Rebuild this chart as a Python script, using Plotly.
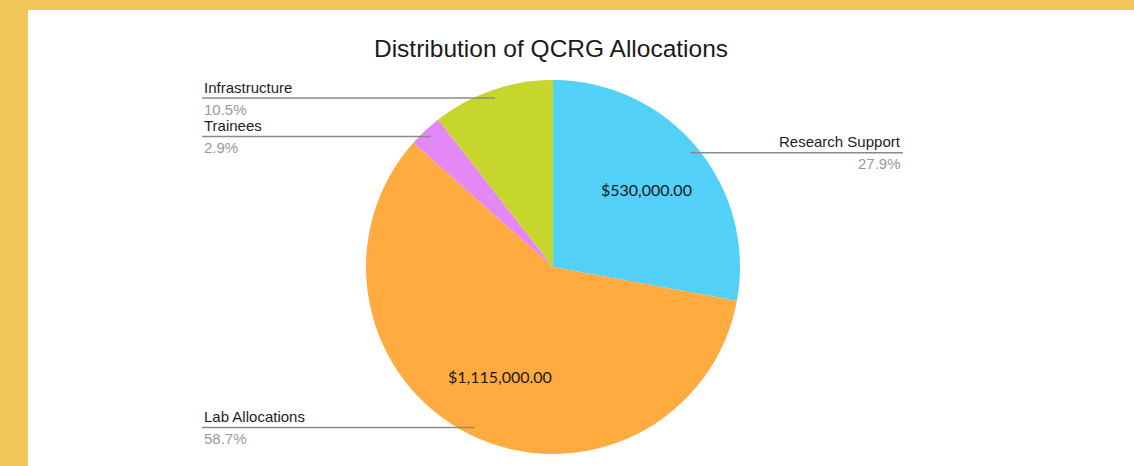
import math
import plotly.graph_objects as go

# ---- data ----
categories = ["Research Support", "Lab Allocations", "Trainees", "Infrastructure"]
amounts = [530000, 1115000, 55000, 200000]
colors = ["#52D0F8", "#FFAB40", "#E388F6", "#C6D62C"]
title_text = "Distribution of QCRG Allocations"

# ---- layout constants (pixels) ----
W, H = 1134, 466
CX, CY, R = 553, 267, 187
LEFT_LABEL_X = 202
RIGHT_LABEL_X = 903
LEAD_FRAC = 0.955
INSIDE_FRAC = 0.65

def px(x):
    return x / W

def py(y):
    return 1 - y / H

total = sum(amounts)
pcts = [a / total for a in amounts]

fig = go.Figure()
fig.add_trace(go.Pie(
    labels=categories,
    values=amounts,
    sort=False,
    direction="clockwise",
    rotation=0,
    marker=dict(colors=colors, line=dict(width=0)),
    textinfo="none",
    hoverinfo="skip",
    showlegend=False,
    domain=dict(x=[px(CX - R), px(CX + R)], y=[py(CY + R), py(CY - R)]),
))

shapes = [
    dict(type="rect", xref="paper", yref="paper", x0=0, x1=1, y0=py(10), y1=1,
         fillcolor="#F3C65A", line=dict(width=0), layer="below"),
    dict(type="rect", xref="paper", yref="paper", x0=0, x1=px(28), y0=0, y1=1,
         fillcolor="#F3C65A", line=dict(width=0), layer="below"),
]
annotations = []
label_font = "Liberation Sans, Arial, sans-serif"

cum = 0.0
for cat, amt, p in zip(categories, amounts, pcts):
    mid = (cum + p / 2) * 2 * math.pi
    cum += p
    s, c = math.sin(mid), math.cos(mid)
    ex = CX + LEAD_FRAC * R * s
    ey = CY - LEAD_FRAC * R * c
    right = s > 0
    lx = RIGHT_LABEL_X if right else LEFT_LABEL_X
    shapes.append(dict(type="line", xref="paper", yref="paper",
                       x0=px(lx), y0=py(ey), x1=px(ex), y1=py(ey),
                       line=dict(color="#8a8a8a", width=1.5)))
    anchor = "right" if right else "left"
    annotations.append(dict(xref="paper", yref="paper", x=px(lx), y=py(ey - 11),
                            text=cat, showarrow=False, xanchor=anchor, yanchor="middle",
                            font=dict(family=label_font, size=15, color="#1e1e1e")))
    annotations.append(dict(xref="paper", yref="paper", x=px(lx), y=py(ey + 11),
                            text=f"{p*100:.1f}%", showarrow=False, xanchor=anchor, yanchor="middle",
                            font=dict(family=label_font, size=15, color="#9a9a9a")))
    if p > 0.2:
        ix = CX + INSIDE_FRAC * R * s
        iy = CY - INSIDE_FRAC * R * c
        annotations.append(dict(xref="paper", yref="paper", x=px(ix), y=py(iy),
                                text=f"${amt:,.2f}", showarrow=False, xanchor="center", yanchor="middle",
                                font=dict(family="Lato, Carlito, sans-serif", size=16, color="#1a1a1a")))

fig.update_layout(
    width=W, height=H,
    margin=dict(l=0, r=0, t=0, b=0),
    paper_bgcolor="white",
    plot_bgcolor="white",
    title=dict(text=title_text, x=px(551), y=py(48), xanchor="center", yanchor="middle",
               font=dict(family=label_font, size=24.5, color="#1a1a1a")),
    shapes=shapes,
    annotations=annotations,
)

fig.write_html("out.html",
               config={"displayModeBar": False},
               post_script="document.body.style.margin='0';document.body.style.overflow='hidden';")
